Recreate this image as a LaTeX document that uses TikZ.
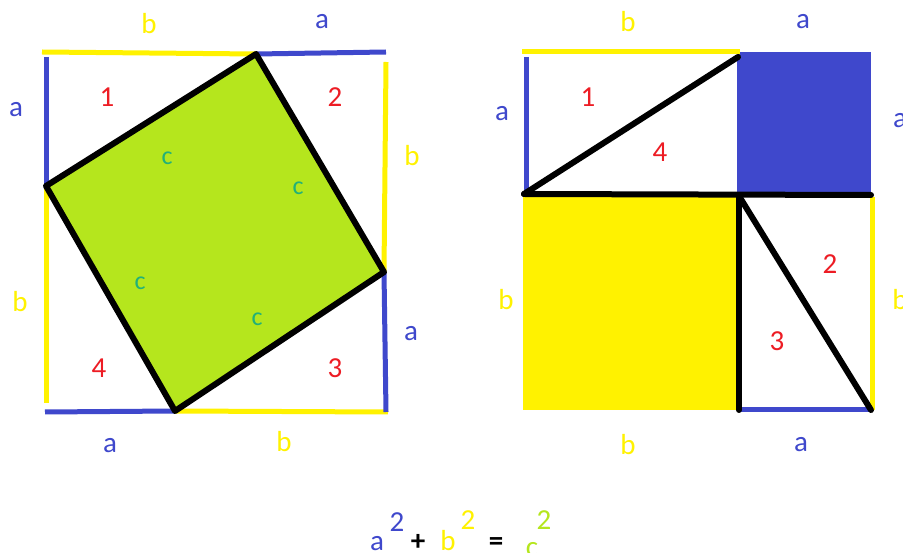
\documentclass[tikz,border=0pt]{standalone}
\usepackage{fontspec}
\setmainfont{Carlito}
\definecolor{yel}{RGB}{255,242,0}
\definecolor{blu}{RGB}{63,72,204}
\definecolor{grn}{RGB}{181,230,29}
\definecolor{rd}{RGB}{237,28,36}
\definecolor{tl}{RGB}{34,177,120}
\tikzset{
  ylin/.style={draw=yel,line width=5pt},
  blin/.style={draw=blu,line width=5pt},
  klin/.style={draw=black,line width=6pt,line join=round,line cap=round},
  lab/.style={font=\fontsize{29}{31}\selectfont,inner sep=0pt},
  ya/.style={lab,text=yel},
  ba/.style={lab,text=blu},
  num/.style={lab,text=rd},
  cl/.style={lab,text=tl,font=\fontsize{26}{28}\selectfont},
  op/.style={lab,font=\fontsize{29}{31}\selectfont\bfseries},
}
\begin{document}
\begin{tikzpicture}[x=1pt,y=-1pt]
\useasboundingbox (0,0) rectangle (903,553);
\fill[white] (0,0) rectangle (903,553);
% ---------- left figure ----------
\coordinate (T) at (256,54);
\coordinate (R) at (384,272);
\coordinate (B) at (175,411);
\coordinate (L) at (46,186);
\fill[grn] (T) -- (R) -- (B) -- (L) -- cycle;
\draw[ylin] (42,52) -- (T);
\draw[blin] (T) -- (386,52);
\draw[blin] (46,57) -- (L);
\draw[ylin] (L) -- (46,403);
\draw[blin] (45,412) -- (B);
\draw[ylin] (B) -- (388,412);
\draw[ylin] (386,62) -- (R);
\draw[blin] (R) -- (386,412);
\draw[klin] (T) -- (R) -- (B) -- (L) -- cycle;
\node[ya] (lb1) at (149,24) {b};
\node[ba] (la1) at (322,22) {a};
\node[ba] (la2) at (16,110) {a};
\node[ya] (lb2) at (412,156) {b};
\node[ya] (lb3) at (20,302) {b};
\node[ba] (la3) at (411,334) {a};
\node[ba] (la4) at (110,446) {a};
\node[ya] (lb4) at (284,442) {b};
\node[num] (n1) at (107,97) {1};
\node[num] (n2) at (335,97) {2};
\node[num] (n4) at (99,368) {4};
\node[num] (n3) at (335,368) {3};
\node[cl] (c1) at (167,158) {c};
\node[cl] (c2) at (298,188) {c};
\node[cl] (c3) at (140,283) {c};
\node[cl] (c4) at (257,319) {c};
% ---------- right figure ----------
\coordinate (P1) at (524,194);
\coordinate (P2) at (738,57);
\coordinate (P3) at (739,196);
\coordinate (P4) at (871,195);
\coordinate (P5) at (739,410);
\coordinate (P6) at (871,410);
\fill[blu] (737,52) rectangle (871,197);
\fill[yel] (523,197) rectangle (738,410);
\draw[ylin] (522,52) -- (740,52);
\draw[blin] (526,57) -- (526,192);
\draw[ylin] (872,197) -- (872,410);
\draw[blin] (P5) -- (P6);
\draw[klin] (P1) -- (P2);
\draw[klin] (P1) -- (P4);
\draw[klin] (P3) -- (P5);
\draw[klin] (P3) -- (P6);
\node[ya] (rb1) at (628,22) {b};
\node[ba] (ra1) at (803,22) {a};
\node[ba] (ra2) at (502,114) {a};
\node[ba] (ra3) at (900,121) {a};
\node[ya] (rb2) at (506,300) {b};
\node[ya] (rb3) at (900,300) {b};
\node[ya] (rb4) at (628,445) {b};
\node[ba] (ra4) at (801,445) {a};
\node[num] (m1) at (588,97) {1};
\node[num] (m4) at (660,152) {4};
\node[num] (m2) at (830,264) {2};
\node[num] (m3) at (777,341) {3};
% ---------- equation ----------
\node[ba,anchor=base] (ea) at (377,550) {a};
\node[lab,text=blu,anchor=base] (e2a) at (397,531) {2};
\node[op,anchor=base] (ep) at (418,550) {+};
\node[ya,anchor=base] (eb) at (448,550) {b};
\node[lab,text=yel,anchor=base] (e2b) at (468,529) {2};
\node[op,anchor=base] (eq) at (496,550) {=};
\node[lab,text=grn,anchor=base] (ec) at (532,556) {c};
\node[lab,text=grn,anchor=base] (e2c) at (544,529) {2};
\end{tikzpicture}
\end{document}
